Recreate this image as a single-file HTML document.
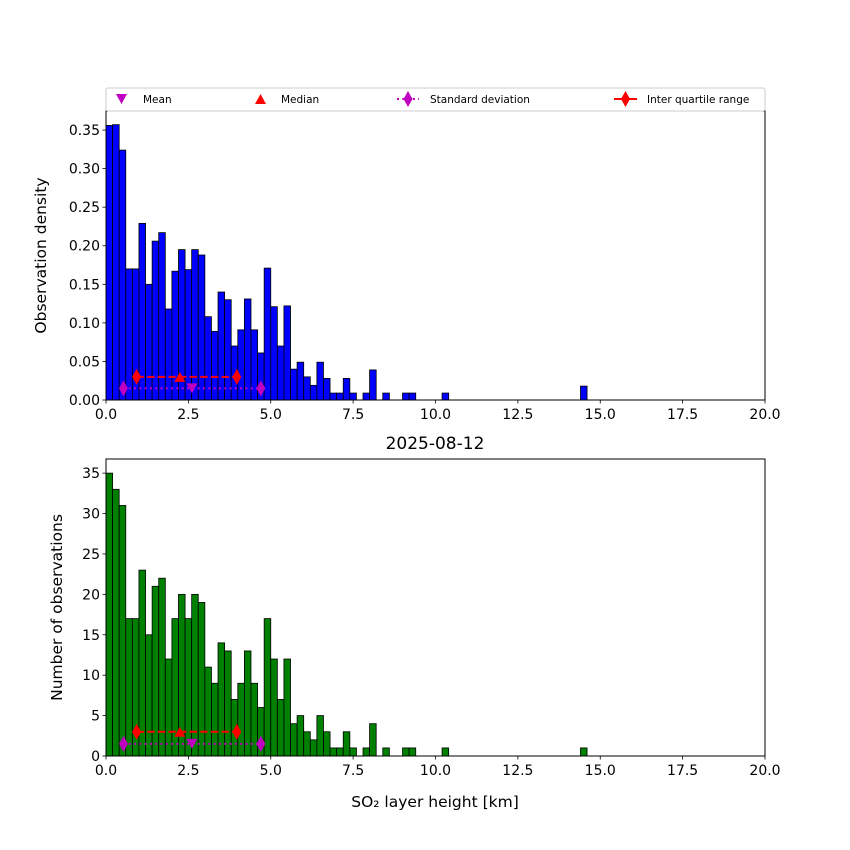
<!DOCTYPE html>
<html><head><meta charset="utf-8"><style>
html,body{margin:0;padding:0;background:#fff;}
svg{display:block;font-family:"DejaVu Sans","Liberation Sans",sans-serif;}
</style></head><body>
<svg id="c" width="850" height="850" xmlns="http://www.w3.org/2000/svg"></svg>
<script>
const binWidth = 0.2;
const counts = [35,33,31,17,17,23,15,21,22,12,17,20,17,20,19,11,9,14,13,7,9,13,9,6,17,12,7,12,4,5,3,2,5,3,1,1,3,1,0,1,4,0,1,0,0,1,1,0,0,0,0,1,0,0,0,0,0,0,0,0,0,0,0,0,0,0,0,0,0,0,0,0,1];
const densities = [0.356,0.357,0.324,0.170,0.170,0.229,0.150,0.206,0.217,0.118,0.167,0.195,0.169,0.195,0.188,0.108,0.089,0.140,0.130,0.070,0.091,0.131,0.091,0.061,0.171,0.121,0.070,0.122,0.040,0.049,0.030,0.019,0.049,0.028,0.009,0.009,0.028,0.009,0,0.009,0.039,0,0.009,0,0,0.009,0.009,0,0,0,0,0.009,0,0,0,0,0,0,0,0,0,0,0,0,0,0,0,0,0,0,0,0,0.018];
const xTicks = [0,2.5,5,7.5,10,12.5,15,17.5,20];
const xTickLabels = ["0.0","2.5","5.0","7.5","10.0","12.5","15.0","17.5","20.0"];
const densTicks = [0,0.05,0.1,0.15,0.2,0.25,0.3,0.35];
const densTickLabels = ["0.00","0.05","0.10","0.15","0.20","0.25","0.30","0.35"];
const countTicks = [0,5,10,15,20,25,30,35];
const meanVal = 2.61, medianVal = 2.24;
const stdRange = [0.53, 4.70];
const iqrRange = [0.93, 3.97];

const NS="http://www.w3.org/2000/svg";
const svg=document.getElementById('c');
function el(tag,attrs,parent){const e=document.createElementNS(NS,tag);for(const k in attrs)e.setAttribute(k,attrs[k]);(parent||svg).appendChild(e);return e;}
const X0=106,X1=765;
const sx=v=>X0+(v/20)*(X1-X0);

function panel(name, top, bottom, vals, ymax, ticks, tickLabels, color, ylabel, ylx, markY1, markY2){
  const g=el('g',{});
  
  
  const sy=v=>bottom-(v/ymax)*(bottom-top);
  vals.forEach((v,i)=>{
    if(v<=0) return;
    const r=el('rect',{x:sx(i*binWidth),y:sy(v),width:sx(binWidth)-sx(0),height:bottom-sy(v),fill:color,stroke:'#000','stroke-width':0.8},g);
    
    
  });
  const yl1=sy(markY1), yl2=sy(markY2);
  el('line',{x1:sx(stdRange[0]),x2:sx(stdRange[1]),y1:yl1,y2:yl1,stroke:'#c000c0','stroke-width':2,'stroke-dasharray':'2,3.3'},g);
  stdRange.forEach(v=>el('polygon',{points:`${sx(v)},${yl1-8} ${sx(v)+4.5},${yl1} ${sx(v)},${yl1+8} ${sx(v)-4.5},${yl1}`,fill:'#c000c0'},g));
  el('polygon',{points:`${sx(meanVal)-5.5},${yl1-5} ${sx(meanVal)+5.5},${yl1-5} ${sx(meanVal)},${yl1+5}`,fill:'#c000c0'},g);
  el('line',{x1:sx(iqrRange[0]),x2:sx(iqrRange[1]),y1:yl2,y2:yl2,stroke:'#f00','stroke-width':2,'stroke-dasharray':'7.4,3.2'},g);
  iqrRange.forEach(v=>el('polygon',{points:`${sx(v)},${yl2-8} ${sx(v)+4.5},${yl2} ${sx(v)},${yl2+8} ${sx(v)-4.5},${yl2}`,fill:'#f00'},g));
  el('polygon',{points:`${sx(medianVal)-5.5},${yl2+5} ${sx(medianVal)+5.5},${yl2+5} ${sx(medianVal)},${yl2-5}`,fill:'#f00'},g);
  el('rect',{x:X0,y:top,width:X1-X0,height:bottom-top,fill:'none',stroke:'#000','stroke-width':1},g);
  ticks.forEach((t,i)=>{
    const y=sy(t);
    el('line',{x1:X0-3.5,x2:X0,y1:y,y2:y,stroke:'#000','stroke-width':0.8},g);
    const tx=el('text',{x:X0-6,y:y+5,'text-anchor':'end','font-size':14},g);tx.textContent=tickLabels[i];
  });
  xTicks.forEach((t,i)=>{
    const x=sx(t);
    el('line',{x1:x,x2:x,y1:bottom,y2:bottom+3.5,stroke:'#000','stroke-width':0.8},g);
    const tx=el('text',{x:x,y:bottom+19,'text-anchor':'middle','font-size':14},g);tx.textContent=xTickLabels[i];
  });
  const yt=el('text',{x:0,y:0,'text-anchor':'middle','font-size':15.5,transform:`translate(${ylx},${(top+bottom)/2}) rotate(-90)`},g);
  yt.textContent=ylabel;
  
  
}
panel('density-panel',111,400,densities,0.3747,densTicks,densTickLabels,'#0000ff','Observation density',46,0.015,0.03);
panel('count-panel',459,756,counts,36.75,countTicks,countTicks.map(String),'#008000','Number of observations',62,1.5,3);

const title=el('text',{x:435,y:449,'text-anchor':'middle','font-size':17});title.textContent='2025-08-12';


const xt=el('text',{x:435,y:807,'text-anchor':'middle','font-size':15.5});xt.textContent='SO\u2082 layer height [km]';



const lg=el('g',{});


el('rect',{x:106,y:88,width:659,height:23,fill:'#fff',stroke:'#ccc','stroke-width':1,rx:2},lg);
const ly=99;
el('polygon',{points:`116,${ly-5} 127,${ly-5} 121.5,${ly+5}`,fill:'#c000c0'},lg);
let t=el('text',{x:143,y:103,'font-size':10.5},lg);t.textContent='Mean';
el('polygon',{points:`255,${ly+5} 266,${ly+5} 260.5,${ly-5}`,fill:'#f00'},lg);
t=el('text',{x:281,y:103,'font-size':10.5},lg);t.textContent='Median';
el('line',{x1:397,x2:419,y1:ly,y2:ly,stroke:'#c000c0','stroke-width':2,'stroke-dasharray':'2,3.3'},lg);
el('polygon',{points:`408,${ly-8} 412.5,${ly} 408,${ly+8} 403.5,${ly}`,fill:'#c000c0'},lg);
t=el('text',{x:430,y:103,'font-size':10.5},lg);t.textContent='Standard deviation';
el('line',{x1:614,x2:637,y1:ly,y2:ly,stroke:'#f00','stroke-width':2},lg);
el('polygon',{points:`625.5,${ly-8} 630,${ly} 625.5,${ly+8} 621,${ly}`,fill:'#f00'},lg);
t=el('text',{x:647,y:103,'font-size':10.5},lg);t.textContent='Inter quartile range';
</script>
</body></html>
